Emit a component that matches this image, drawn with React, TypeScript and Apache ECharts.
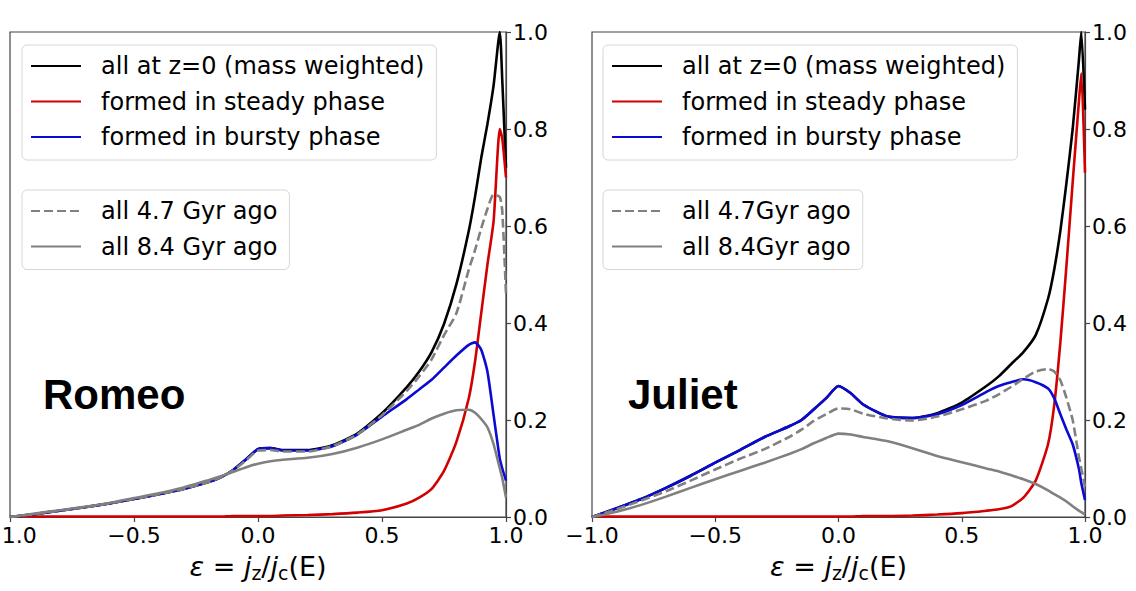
import React, { useEffect, useRef } from "react";
import * as echarts from "echarts";

// epsilon grid shared by all curves
const epsGrid = [
  -1, -0.9, -0.8, -0.7, -0.6, -0.5, -0.4, -0.3, -0.2, -0.15, -0.1, -0.05, 0, 0.05, 0.1, 0.2,
  0.3, 0.4, 0.5, 0.6, 0.65, 0.7, 0.75, 0.8, 0.85, 0.875, 0.9, 0.925, 0.95, 0.975, 0.985, 1.0,
];

// Romeo
const romeoAll = [
  0, 0.006, 0.013, 0.02, 0.028, 0.037, 0.047, 0.058, 0.072, 0.082, 0.097, 0.118, 0.14, 0.142, 0.138, 0.138,
  0.148, 0.172, 0.214, 0.268, 0.3, 0.34, 0.398, 0.48, 0.59, 0.66, 0.74, 0.81, 0.89, 1.0, 0.9, 0.72,
];
const romeoSteady = [
  0.001, 0.001, 0.001, 0.001, 0.001, 0.001, 0.001, 0.001, 0.001, 0.001, 0.002, 0.002, 0.002, 0.002, 0.003, 0.004,
  0.006, 0.009, 0.014, 0.028, 0.04, 0.058, 0.095, 0.155, 0.245, 0.32, 0.42, 0.52, 0.61, 0.8, 0.78, 0.7,
];
const romeoBursty = [
  0, 0.006, 0.013, 0.02, 0.028, 0.037, 0.047, 0.058, 0.072, 0.082, 0.097, 0.118, 0.14, 0.142, 0.137, 0.137,
  0.146, 0.17, 0.207, 0.243, 0.263, 0.283, 0.308, 0.333, 0.355, 0.36, 0.345, 0.3, 0.21, 0.12, 0.1, 0.075,
];
const romeoAgo47 = [
  0, 0.006, 0.013, 0.02, 0.028, 0.037, 0.047, 0.058, 0.072, 0.082, 0.096, 0.116, 0.137, 0.138, 0.135, 0.135,
  0.146, 0.17, 0.21, 0.26, 0.29, 0.325, 0.375, 0.42, 0.51, 0.55, 0.595, 0.635, 0.665, 0.66, 0.63, 0.46,
];
const romeoAgo84 = [
  0, 0.007, 0.014, 0.021, 0.029, 0.039, 0.049, 0.061, 0.076, 0.084, 0.093, 0.102, 0.11, 0.115, 0.118, 0.122,
  0.13, 0.143, 0.16, 0.18, 0.19, 0.203, 0.213, 0.22, 0.221, 0.215, 0.202, 0.185, 0.15, 0.1, 0.08, 0.04,
];

// Juliet
const julietAll = [
  0, 0.018, 0.037, 0.06, 0.085, 0.112, 0.138, 0.165, 0.187, 0.2, 0.222, 0.245, 0.27, 0.255, 0.232, 0.207,
  0.204, 0.214, 0.236, 0.27, 0.29, 0.315, 0.34, 0.375, 0.45, 0.51, 0.59, 0.69, 0.8, 0.94, 1.0, 0.84,
];
const julietSteady = [
  0.001, 0.001, 0.001, 0.001, 0.001, 0.001, 0.001, 0.001, 0.001, 0.001, 0.001, 0.001, 0.001, 0.001, 0.002, 0.002,
  0.003, 0.005, 0.008, 0.013, 0.016, 0.022, 0.04, 0.075, 0.15, 0.23, 0.36, 0.52, 0.69, 0.855, 0.915, 0.71,
];
const julietBursty = [
  0, 0.018, 0.037, 0.06, 0.085, 0.112, 0.138, 0.165, 0.187, 0.2, 0.222, 0.245, 0.27, 0.255, 0.232, 0.207,
  0.204, 0.212, 0.231, 0.258, 0.27, 0.278, 0.284, 0.278, 0.265, 0.245, 0.212, 0.18, 0.15, 0.1, 0.07, 0.035,
];
const julietAgo47 = [
  0, 0.016, 0.034, 0.053, 0.075, 0.098, 0.12, 0.14, 0.165, 0.18, 0.198, 0.212, 0.224, 0.222, 0.213, 0.203,
  0.199, 0.207, 0.222, 0.24, 0.253, 0.268, 0.285, 0.3, 0.305, 0.3, 0.282, 0.245, 0.2, 0.125, 0.1, 0.062,
];
const julietAgo84 = [
  0, 0.011, 0.025, 0.042, 0.06, 0.078, 0.095, 0.112, 0.13, 0.14, 0.152, 0.163, 0.172, 0.17, 0.165, 0.156,
  0.142, 0.126, 0.113, 0.1, 0.094, 0.086, 0.078, 0.068, 0.055, 0.047, 0.04, 0.032, 0.022, 0.013, 0.01, 0.005,
];

const xTicks = { min: -1, max: 1, step: 0.5 };
const yTicks = { min: 0, max: 1, step: 0.2 };

const nameAll = "all at z=0 (mass weighted)";
const nameSteady = "formed in steady phase";
const nameBursty = "formed in bursty phase";
const romeoAgoNames = ["all 4.7 Gyr ago", "all 8.4 Gyr ago"];
const julietAgoNames = ["all 4.7Gyr ago", "all 8.4Gyr ago"];
const panelTitles = ["Romeo", "Juliet"];

const FONT = "DejaVu Sans";

const fmt = (v: number) => (v < 0 ? "\u2212" : "") + Math.abs(v).toFixed(1);

function pairs(ys: number[]) {
  return epsGrid.map((x, i) => [x, ys[i]]);
}

function lineSeries(name: string, ys: number[], color: string, idx: number, dashed = false, z = 2) {
  return {
    type: "line",
    name,
    data: pairs(ys),
    xAxisIndex: idx,
    yAxisIndex: idx,
    symbol: "none",
    showSymbol: false,
    smooth: 0.2,
    z,
    lineStyle: { color, width: 2.6, type: dashed ? [9, 4] : "solid" },
    itemStyle: { color },
  };
}

function legendBox(left: number, top: number, data: string[]) {
  return {
    left,
    top,
    orient: "vertical",
    data,
    selectedMode: false,
    itemWidth: 50,
    itemHeight: 14,
    itemGap: 11.5,
    padding: [9, 12, 11, 8],
    backgroundColor: "rgba(255,255,255,0.85)",
    borderColor: "#d6d6d6",
    borderWidth: 1,
    borderRadius: 5,
    itemStyle: { opacity: 0, color: "rgba(0,0,0,0)", borderWidth: 0 },
    textStyle: {
      fontSize: 24,
      fontFamily: FONT,
      color: "#000",
      lineHeight: 24,
      padding: [0, 0, 0, 15],
    },
  };
}

const BLACK = "#000000";
const RED = "#d20000";
const BLUE = "#0a0ad2";
const GRAY = "#808080";

export default function App() {
  const ref = useRef<HTMLDivElement>(null);
  useEffect(() => {
    if (!ref.current) return;
    const chart = echarts.init(ref.current, null, { renderer: "svg" });
    const grids = [
      { left: 10, top: 32, width: 496, height: 485 },
      { left: 592, top: 32, width: 493, height: 485 },
    ];
    const axisName = "{it|ε}{n| = }{it|j}{sub|z}{n|/}{it|j}{sub|c}{n|(E)}";
    const xAxes = grids.map((_, i) => ({
      type: "value",
      gridIndex: i,
      min: xTicks.min,
      max: xTicks.max,
      interval: xTicks.step,
      axisLine: { show: true, onZero: false, lineStyle: { color: "#444", width: 1.2 } },
      axisTick: { show: true, length: 5, lineStyle: { color: "#444", width: 1.2 } },
      axisLabel: { formatter: fmt, fontSize: 22, color: "#000", fontFamily: FONT, margin: 7 },
      splitLine: { show: false },
      name: axisName,
      nameLocation: "middle",
      nameGap: 23,
      nameTextStyle: {
        rich: {
          it: { fontSize: 27, fontFamily: FONT, fontStyle: "italic", color: "#000", lineHeight: 32 },
          n: { fontSize: 27, fontFamily: FONT, color: "#000", lineHeight: 32 },
          sub: { fontSize: 19, fontFamily: FONT, color: "#000", lineHeight: 19, padding: [13, 0, 0, 0] },
        },
      },
    }));
    const yAxes = grids.map((_, i) => ({
      type: "value",
      gridIndex: i,
      position: "right",
      min: yTicks.min,
      max: yTicks.max,
      interval: yTicks.step,
      axisLine: { show: true, onZero: false, lineStyle: { color: "#444", width: 1.2 } },
      axisTick: { show: true, length: 5, lineStyle: { color: "#444", width: 1.2 } },
      axisLabel: { formatter: (v: number) => v.toFixed(1), fontSize: 22, color: "#000", fontFamily: FONT, margin: 7 },
      splitLine: { show: false },
    }));
    const option = {
      animation: false,
      backgroundColor: "#ffffff",
      grid: grids.map((g) => ({
        ...g,
        show: true,
        containLabel: false,
        outerBoundsMode: "none",
        borderColor: "#444",
        borderWidth: 1.2,
        backgroundColor: "transparent",
      })),
      xAxis: xAxes,
      yAxis: yAxes,
      legend: [
        legendBox(22, 45, [nameAll, nameSteady, nameBursty]),
        legendBox(22, 190, romeoAgoNames),
        legendBox(603, 45, [nameAll, nameSteady, nameBursty]),
        legendBox(603, 190, julietAgoNames),
      ],
      series: [
        lineSeries(nameAll, romeoAll, BLACK, 0, false, 2),
        lineSeries(nameSteady, romeoSteady, RED, 0, false, 3),
        lineSeries(nameBursty, romeoBursty, BLUE, 0, false, 4),
        lineSeries(romeoAgoNames[0], romeoAgo47, GRAY, 0, true, 5),
        lineSeries(romeoAgoNames[1], romeoAgo84, GRAY, 0, false, 6),
        lineSeries(nameAll, julietAll, BLACK, 1, false, 2),
        lineSeries(nameSteady, julietSteady, RED, 1, false, 3),
        lineSeries(nameBursty, julietBursty, BLUE, 1, false, 4),
        lineSeries(julietAgoNames[0], julietAgo47, GRAY, 1, true, 5),
        lineSeries(julietAgoNames[1], julietAgo84, GRAY, 1, false, 6),
      ],
      graphic: [
        {
          type: "text",
          x: 43,
          y: 394,
          style: {
            text: panelTitles[0],
            font: 'bold 42px "Liberation Sans", Arial, sans-serif',
            fill: "#000",
            textVerticalAlign: "middle",
          },
        },
        {
          type: "text",
          x: 628,
          y: 394,
          style: {
            text: panelTitles[1],
            font: 'bold 42px "Liberation Sans", Arial, sans-serif',
            fill: "#000",
            textVerticalAlign: "middle",
          },
        },
      ],
    };
    chart.setOption(option as any);
    return () => chart.dispose();
  }, []);
  return (
    <div
      ref={ref}
      style={{ position: "fixed", left: 0, top: 0, width: 1136, height: 591, background: "#fff" }}
    />
  );
}
